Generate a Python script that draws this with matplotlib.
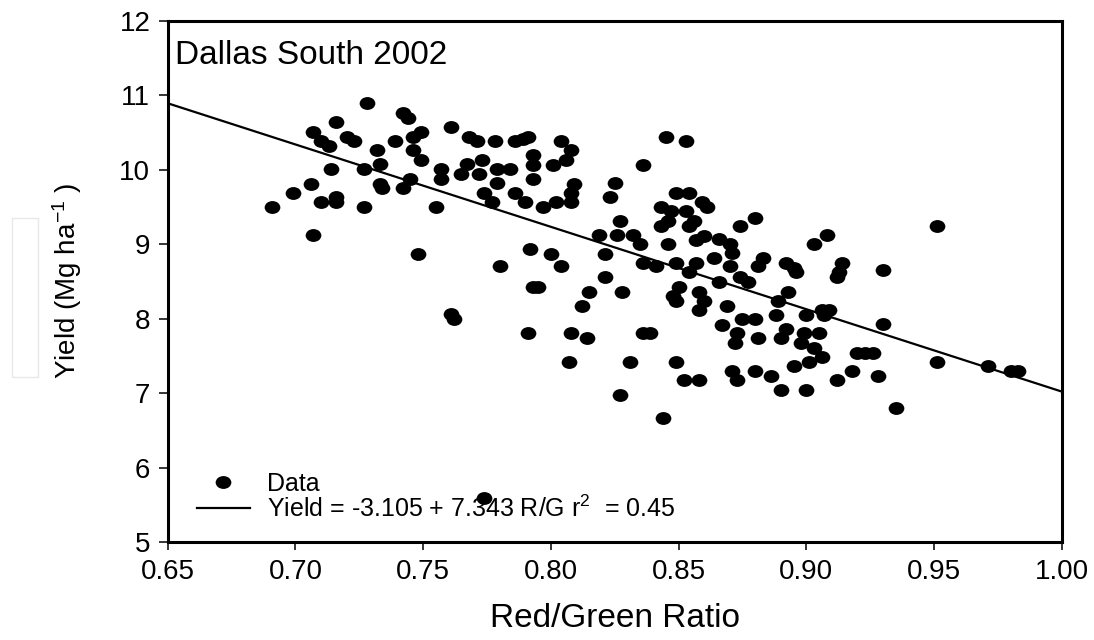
"""
Yield vs Red/Green ratio scatter with the fitted line, Dallas South 2002.
"""

import matplotlib
matplotlib.use("Agg")
import matplotlib.pyplot as plt
import numpy as np
from matplotlib.lines import Line2D
from matplotlib.patches import Rectangle
from matplotlib.path import Path
from matplotlib.transforms import Affine2D

# data
rg_ratio = [
    0.728, 0.742, 0.744, 0.716, 0.707, 0.720, 0.723, 0.710, 0.713, 0.739,
    0.749, 0.746, 0.761, 0.732, 0.746, 0.749, 0.733, 0.714, 0.727, 0.757,
    0.757, 0.745, 0.742, 0.733, 0.734, 0.706, 0.699, 0.710, 0.716, 0.716,
    0.691, 0.727, 0.755, 0.707, 0.748,
    0.761, 0.762,
    0.768, 0.771, 0.778, 0.786, 0.789, 0.791, 0.804, 0.808, 0.806, 0.793,
    0.793, 0.801, 0.793, 0.773, 0.767, 0.765, 0.772, 0.779, 0.784, 0.779,
    0.774, 0.777, 0.786, 0.790, 0.797, 0.802, 0.809, 0.808, 0.808, 0.825,
    0.823, 0.836, 0.845, 0.853, 0.827, 0.819, 0.826, 0.832, 0.835, 0.821,
    0.792, 0.800, 0.780, 0.804, 0.836, 0.841, 0.849, 0.854, 0.859, 0.861,
    0.843, 0.847, 0.853, 0.856, 0.846, 0.843, 0.854, 0.860, 0.857, 0.846,
    0.866, 0.870, 0.871, 0.864, 0.857, 0.849, 0.874, 0.880, 0.870, 0.881,
    0.951, 0.908, 0.903, 0.883, 0.892, 0.895, 0.914, 0.930,
    0.793, 0.795, 0.821, 0.815, 0.828, 0.812, 0.791, 0.808, 0.814, 0.836,
    0.839, 0.807, 0.831, 0.849, 0.852, 0.858, 0.827, 0.844, 0.854, 0.866,
    0.874, 0.877, 0.850, 0.848, 0.849, 0.858, 0.860, 0.858, 0.869, 0.867,
    0.875, 0.880, 0.873, 0.872, 0.881, 0.871, 0.873, 0.880,
    0.896, 0.913, 0.912, 0.893, 0.889, 0.888, 0.900, 0.906, 0.909, 0.907,
    0.930, 0.892, 0.890, 0.899, 0.905, 0.898, 0.903, 0.906, 0.901, 0.920,
    0.923, 0.926, 0.951, 0.971, 0.980, 0.983, 0.895, 0.886, 0.918, 0.928,
    0.912, 0.890, 0.900, 0.935,
    0.774,
]
yield_mg = [
    10.89, 10.76, 10.69, 10.64, 10.51, 10.44, 10.39, 10.39, 10.32, 10.39,
    10.51, 10.44, 10.57, 10.26, 10.26, 10.13, 10.08, 10.01, 10.01, 10.01,
    9.88, 9.88, 9.75, 9.81, 9.75, 9.81, 9.69, 9.56, 9.63, 9.56,
    9.50, 9.50, 9.50, 9.12, 8.87,
    8.06, 8.00,
    10.44, 10.38, 10.38, 10.38, 10.41, 10.44, 10.39, 10.26, 10.13, 10.20,
    10.06, 10.06, 9.88, 10.13, 10.08, 9.94, 9.94, 10.01, 10.01, 9.82,
    9.69, 9.56, 9.69, 9.56, 9.50, 9.56, 9.81, 9.69, 9.57, 9.82,
    9.63, 10.06, 10.44, 10.38, 9.31, 9.12, 9.12, 9.12, 9.00, 8.87,
    8.93, 8.87, 8.70, 8.70, 8.74, 8.71, 9.69, 9.69, 9.57, 9.50,
    9.50, 9.44, 9.44, 9.31, 9.31, 9.24, 9.24, 9.11, 9.06, 9.00,
    9.07, 9.00, 8.88, 8.81, 8.74, 8.75, 9.24, 9.35, 8.71, 8.71,
    9.24, 9.12, 9.00, 8.81, 8.75, 8.68, 8.75, 8.65,
    8.43, 8.43, 8.56, 8.36, 8.36, 8.17, 7.80, 7.80, 7.74, 7.80,
    7.80, 7.42, 7.42, 7.42, 7.17, 7.17, 6.98, 6.66, 8.62, 8.49,
    8.56, 8.49, 8.43, 8.30, 8.24, 8.36, 8.24, 8.12, 8.17, 7.92,
    7.99, 7.99, 7.80, 7.67, 7.74, 7.30, 7.17, 7.30,
    8.62, 8.62, 8.56, 8.36, 8.24, 8.05, 8.05, 8.12, 8.12, 8.05,
    7.93, 7.86, 7.74, 7.80, 7.80, 7.67, 7.60, 7.48, 7.42, 7.54,
    7.54, 7.54, 7.42, 7.36, 7.30, 7.30, 7.36, 7.23, 7.30, 7.23,
    7.17, 7.04, 7.04, 6.80,
    5.59,
]

# fitted line as it is drawn (not the printed equation)
fit_intercept = 18.08
fit_slope = -11.06

x_ticks = [0.65, 0.70, 0.75, 0.80, 0.85, 0.90, 0.95, 1.00]
y_ticks = [5, 6, 7, 8, 9, 10, 11, 12]

site_label = "Dallas South 2002"
legend_labels = ["Data", "Yield = -3.105 + 7.343 R/G r$^2$  = 0.45"]

plt.rcParams["font.family"] = ["Liberation Sans", "DejaVu Sans"]
plt.rcParams["mathtext.fontset"] = "custom"
plt.rcParams["mathtext.rm"] = "Liberation Sans"
plt.rcParams["mathtext.it"] = "Liberation Sans:italic"
plt.rcParams["mathtext.bf"] = "Liberation Sans:bold"

# the dots are a little wider than tall
ellipse = Path.unit_circle().transformed(Affine2D().scale(1.0, 0.82))

fig = plt.figure(figsize=(10.94, 6.4), dpi=100)
ax = fig.add_axes([0.1533, 0.1531, 0.8172, 0.8146])

ax.plot(rg_ratio, yield_mg, ls="none", marker=ellipse, markersize=11.3,
        color="black", markeredgewidth=0)

x_line = np.array([x_ticks[0], x_ticks[-1]])
ax.plot(x_line, fit_intercept + fit_slope * x_line, color="black", lw=1.6)

ax.set_xlim(x_ticks[0], x_ticks[-1])
ax.set_ylim(y_ticks[0], y_ticks[-1])
ax.set_xticks(x_ticks)
ax.set_xticklabels([f"{t:.2f}" for t in x_ticks])
ax.set_yticks(y_ticks)
ax.set_yticklabels([str(t) for t in y_ticks])
ax.tick_params(axis="both", direction="out", width=1.1, color="black",
               labelsize=20)
ax.tick_params(axis="y", length=6.5, pad=6)
ax.tick_params(axis="x", length=5.4, pad=7)
for sp in ax.spines.values():
    sp.set_linewidth(2.2)

ax.set_xlabel("Red/Green Ratio", fontsize=24, va="baseline")
ax.xaxis.set_label_coords(0.5, -0.163)
ax.set_ylabel("Yield (Mg ha$^{-1}$ )", fontsize=20, va="center")
ax.yaxis.set_label_coords(-0.1126, 0.5)

ax.text(0.008, 0.916, site_label, transform=ax.transAxes, fontsize=24,
        va="baseline", ha="left")

handles = [
    Line2D([], [], ls="none", marker=ellipse, markersize=11.3, color="black",
           markeredgewidth=0),
    Line2D([], [], color="black", lw=1.6),
]
ax.legend(handles, legend_labels, loc="lower left",
          bbox_to_anchor=(0.0328, 0.038), frameon=False, fontsize=18,
          handlelength=2.1, handletextpad=0.68, labelspacing=0.0,
          borderpad=0, borderaxespad=0)

# faint empty box left of the y label, as in the source image
fig.patches.append(Rectangle((0.011, 0.411), 0.0238, 0.248,
                             transform=fig.transFigure, fill=False,
                             edgecolor="#e8e8e8", lw=1.0))

fig.savefig("out.png", dpi=100)
